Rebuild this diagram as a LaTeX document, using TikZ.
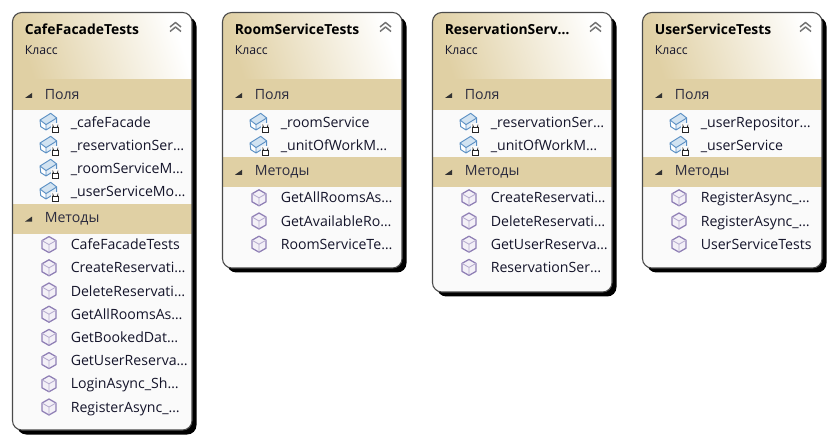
\documentclass[tikz,border=0pt]{standalone}
\usepackage{fontspec}
\setmainfont{Open Sans}
\definecolor{BandTan}{HTML}{E0D0A4}
\definecolor{CardFill}{HTML}{FAFAFA}
\definecolor{CardEdge}{HTML}{4A4A4A}
\definecolor{RowText}{HTML}{14142A}
\definecolor{FieldBlue}{HTML}{5B90C4}
\definecolor{FieldPale}{HTML}{D2E3F1}
\definecolor{MethodPurple}{HTML}{8F7FB5}
\definecolor{MethodPale}{HTML}{F3F0F7}
\usetikzlibrary{positioning}
\tikzset{
  titlebox/.style={anchor=west, inner sep=0pt, text=black, font=\fontsize{10.4}{12}\selectfont\bfseries},
  kindbox/.style={anchor=west, inner sep=0pt, text=RowText, font=\fontsize{9.2}{11}\selectfont},
  bandbox/.style={anchor=west, inner sep=0pt, text=RowText!90, font=\fontsize{10.6}{12}\selectfont},
  rowbox/.style={anchor=west, inner sep=0pt, text=RowText, text height=10pt, text depth=3pt, font=\fontsize{10.6}{12}\selectfont},
  fieldicon/.pic={
    \fill[FieldPale] (-9,-2.3) -- (1.7,-9) -- (7.7,-4.3) -- (-3,2.3) -- cycle;
    \fill[white] (-9,-2.3) -- (-3,2.3) -- (-3,7.7) -- (-8.3,4.3) -- cycle;
    \fill[FieldPale!60] (-3,2.3) -- (7.7,-4.3) -- (7.7,1) -- (-3,7.7) -- cycle;
    \draw[FieldBlue, line width=0.7pt, line join=round] (-9,-2.3) -- (1.7,-9) -- (7.7,-4.3) -- (7.7,1) -- (-3,7.7) -- (-8.3,4.3) -- cycle (-9,-2.3) -- (-3,2.3) -- (7.7,-4.3) (-3,2.3) -- (-3,7.7);
    \fill[CardFill] (1.5,1) rectangle (11,10.5);
    \draw[black!85, line width=0.75pt] (4.2,5.5) -- (4.2,4.2) arc[start angle=180, end angle=0, radius=2.2] -- (8.6,5.5);
    \draw[black!85, line width=0.75pt, fill=white] (3,5.5) rectangle (9.8,9.8);
  },
  methodicon/.pic={
    \draw[MethodPurple, line width=0.95pt, fill=MethodPale, line join=round] (0,-8) -- (7,-4) -- (7,4) -- (0,8) -- (-7,4) -- (-7,-4) -- cycle;
    \draw[MethodPurple!65, line width=0.65pt] (-7,-4) -- (0,0) -- (7,-4) (0,0) -- (0,8);
  },
}
\newcommand{\classcard}[8]{
  % name, left edge, bottom edge, field count, method count, title, fields, methods
  \pgfmathsetmacro{\cardL}{#2}
  \pgfmathsetmacro{\cardR}{#2+179.5}
  \pgfmathsetmacro{\bandY}{110+23.4*#4}
  \fill[black, rounded corners=7pt] (\cardL+4.5,17) rectangle (\cardR+4.5,#3+4.5);
  \fill[CardFill, rounded corners=7pt] (\cardL,12.5) rectangle (\cardR,#3);
  \begin{scope}
    \clip[rounded corners=7pt] (\cardL,12.5) rectangle (\cardR,#3);
    \shade[bottom color=BandTan, top color=white, shading angle=-72] (\cardL,12) rectangle (\cardR,79);
    \fill[BandTan] (\cardL,79.5) rectangle (\cardR,110);
    \fill[BandTan] (\cardL,\bandY) rectangle (\cardR,\bandY+30);
  \end{scope}
  \draw[CardEdge, line width=0.8pt, rounded corners=7pt] (\cardL,12.5) rectangle (\cardR,#3);
  \node[titlebox] (#1title) at (\cardL+12,29) {#6};
  \node[kindbox] (#1kind) at (\cardL+12,50.5) {Класс};
  \draw[black!55, line width=1.1pt, line join=round] (\cardR-22,27) -- (\cardR-16.5,22.5) -- (\cardR-11,27) (\cardR-22,31.5) -- (\cardR-16.5,27) -- (\cardR-11,31.5);
  \node[bandbox] (#1fields) at (\cardL+32,95) {Поля};
  \node[bandbox] (#1methods) at (\cardL+32,\bandY+15) {Методы};
  \fill[black!80] (\cardL+12.5,98) -- (\cardL+19.5,98) -- (\cardL+19.5,93) -- cycle;
  \fill[black!80] (\cardL+12.5,\bandY+18) -- (\cardL+19.5,\bandY+18) -- (\cardL+19.5,\bandY+13) -- cycle;
  \foreach \lbl [count=\i] in {#7} {
    \pgfmathsetmacro{\rowY}{122.3+23*(\i-1)}
    \pic at (\cardL+36.5,\rowY) {fieldicon};
    \node[rowbox] (#1f\i) at (\cardL+58,\rowY+0.7) {\lbl};
  }
  \foreach \lbl [count=\i] in {#8} {
    \pgfmathsetmacro{\rowY}{\bandY+41+23.2*(\i-1)}
    \pic at (\cardL+36.5,\rowY) {methodicon};
    \node[rowbox] (#1m\i) at (\cardL+58,\rowY+0.4) {\lbl};
  }
}
\begin{document}
\begin{tikzpicture}[x=0.75pt,y=-0.75pt]
  \useasboundingbox[fill=white] (0,0) rectangle (834,441);
  \classcard{cafe}{12.5}{430}{4}{8}{CafeFacadeTests}
    {\_cafeFacade,\_reservationSer…,\_roomServiceM…,\_userServiceMo…}
    {CafeFacadeTests,CreateReservati…,DeleteReservati…,GetAllRoomsAs…,GetBookedDat…,GetUserReserva…,LoginAsync\_Sh…,RegisterAsync\_…}
  \classcard{room}{222.5}{268}{2}{3}{RoomServiceTests}
    {\_roomService,\_unitOfWorkM…}
    {GetAllRoomsAs…,GetAvailableRo…,RoomServiceTe…}
  \classcard{resv}{432.5}{292}{2}{4}{ReservationServ…}
    {\_reservationSer…,\_unitOfWorkM…}
    {CreateReservati…,DeleteReservati…,GetUserReserva…,ReservationSer…}
  \classcard{user}{642.5}{268}{2}{3}{UserServiceTests}
    {\_userRepositor…,\_userService}
    {RegisterAsync\_…,RegisterAsync\_…,UserServiceTests}
\end{tikzpicture}
\end{document}
